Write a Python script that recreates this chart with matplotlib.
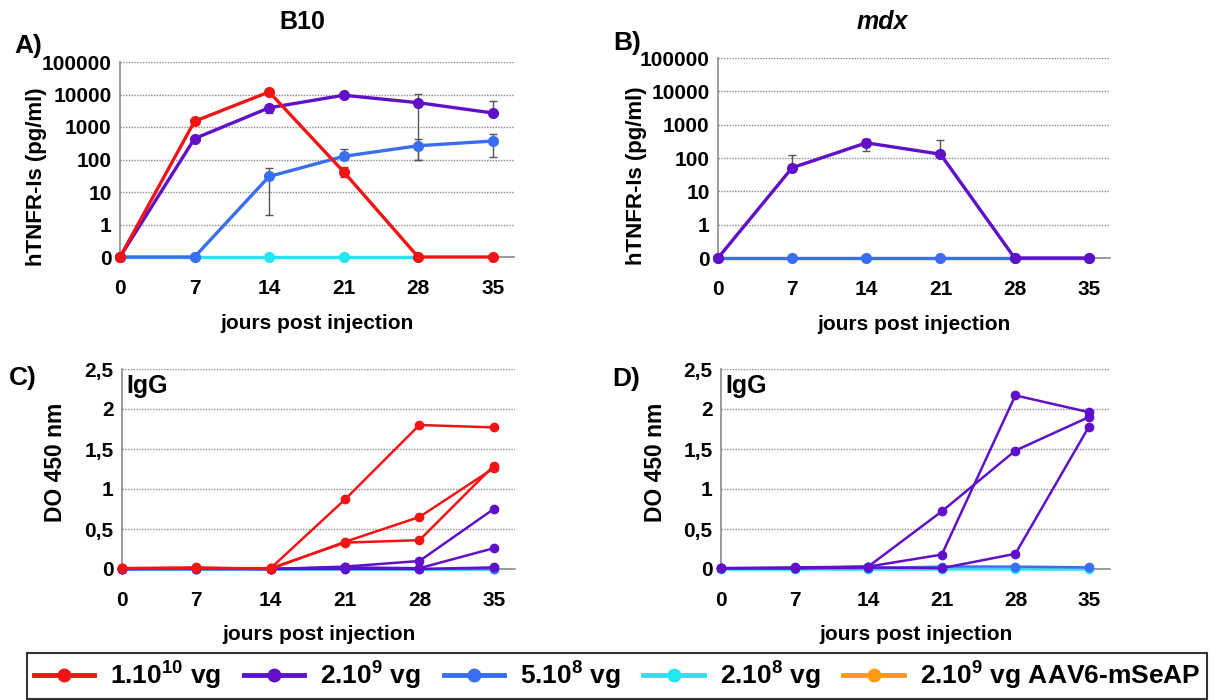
import numpy as np
import matplotlib
matplotlib.use("Agg")
import matplotlib.pyplot as plt
from matplotlib.lines import Line2D

plt.rcParams['font.family'] = ['Liberation Sans', 'DejaVu Sans']
plt.rcParams['font.weight'] = 'bold'
plt.rcParams['mathtext.fontset'] = 'custom'
plt.rcParams['mathtext.rm'] = 'Liberation Sans:bold'
plt.rcParams['mathtext.bf'] = 'Liberation Sans:bold'
plt.rcParams['mathtext.it'] = 'Liberation Sans:bold:italic'

days = [0, 7, 14, 21, 28, 35]

# A) B10 - hTNFR-Is (pg/ml)
a_red = [0, 1500, 12000, 42, 0, 0]
a_red_lo = [0, 0, 0, 13, 0, 0]
a_red_hi = [0, 0, 0, 15, 0, 0]
a_purple = [0, 440, 3900, 9500, 5600, 2700]
a_purple_lo = [0, 0, 1200, 0, 5500, 0]
a_purple_hi = [0, 0, 0, 0, 4700, 3450]
a_blue = [0, 0, 30, 125, 265, 370]
a_blue_lo = [0, 0, 28, 0, 165, 250]
a_blue_hi = [0, 0, 25, 80, 155, 245]
a_cyan = [0, 0, 0, 0, 0]

# B) mdx - hTNFR-Is (pg/ml)
b_purple = [0, 51, 285, 130, 0, 0]
b_purple_lo = [0, 0, 120, 0, 0, 0]
b_purple_hi = [0, 75, 95, 205, 0, 0]
b_blue = [0, 0, 0, 0, 0, 0]

# C) B10 - IgG DO 450 nm (one line per mouse)
c_red = [[0.01, 0.01, 0.01, 0.87, 1.80, 1.77],
         [0.01, 0.02, 0.00, 0.34, 0.65, 1.26],
         [0.01, 0.01, 0.01, 0.33, 0.36, 1.29]]
c_purple = [[0.00, 0.01, 0.00, 0.03, 0.10, 0.75],
            [0.00, 0.01, 0.00, 0.02, 0.01, 0.26],
            [0.00, 0.00, 0.00, 0.00, 0.00, 0.02]]
c_blue = [0.00, 0.00, 0.00, 0.01, 0.00, 0.00]
c_cyan = [0.00, 0.00, 0.00, 0.00, 0.00, 0.00]

# D) mdx - IgG DO 450 nm
d_purple = [[0.01, 0.01, 0.03, 0.72, 1.48, 1.90],
            [0.01, 0.02, 0.03, 0.18, 2.17, 1.96],
            [0.01, 0.01, 0.02, 0.01, 0.19, 1.78]]
d_blue = [0.01, 0.01, 0.01, 0.03, 0.03, 0.02]
d_cyan = [0.00, 0.00, 0.00, 0.00, 0.00, 0.00]

log_ticks = [0, 1, 10, 100, 1000, 10000, 100000]
log_labels = ['0', '1', '10', '100', '1000', '10000', '100000']
od_ticks = [0, 0.5, 1, 1.5, 2, 2.5]

legend_labels = ['$1.10^{10}$ vg', '$2.10^{9}$ vg', '$5.10^{8}$ vg',
                 '$2.10^{8}$ vg', '$2.10^{9}$ vg AAV6-mSeAP']
colors = ['#f01414', '#6010c8', '#3a6ef0', '#22e6f0', '#ff9a12']
RED, PURPLE, BLUE, CYAN, ORANGE = colors


def fwd(v):
    v = np.asarray(v, dtype=float)
    return np.where(v >= 1, np.log10(np.maximum(v, 1)) + 1, v)


def inv(y):
    y = np.asarray(y, dtype=float)
    return np.where(y >= 1, 10 ** (y - 1), y)


fig = plt.figure(figsize=(12.17, 7), dpi=100)


def axes_px(l, t, r, b):
    return fig.add_axes([l / 1217, 1 - b / 700, (r - l) / 1217, (b - t) / 700])


def style(ax):
    for s in ['top', 'right']:
        ax.spines[s].set_visible(False)
    for s in ['left', 'bottom']:
        ax.spines[s].set_color('#8a8a8a')
        ax.spines[s].set_linewidth(1.2)
    ax.yaxis.grid(True, linestyle=(0, (1, 1)), color='#8a8a8a', lw=1)
    ax.set_axisbelow(True)
    ax.tick_params(axis='y', length=0, pad=6, labelsize=15)
    ax.tick_params(axis='x', length=3, color='#8a8a8a', pad=13, labelsize=15)
    ax.set_xticks(days)
    ax.set_xlim(0, 37)
    ax.set_xlabel('jours post injection', fontsize=15, fontweight='bold', labelpad=11)


def line(ax, x, y, c, lw=2.4, ms=7):
    ax.plot(x, y, '-o', color=c, lw=lw, ms=ms, clip_on=False, zorder=3)


def errs(ax, y, lo, hi):
    ax.errorbar(days, y, yerr=[lo, hi], fmt='none', ecolor='#555555',
                elinewidth=1, capsize=3, capthick=1, zorder=2, clip_on=False)


# A
axA = axes_px(120, 62, 514, 257)
axA.set_yscale('function', functions=(fwd, inv))
errs(axA, a_blue, a_blue_lo, a_blue_hi)
errs(axA, a_purple, a_purple_lo, a_purple_hi)
errs(axA, a_red, a_red_lo, a_red_hi)
line(axA, days[:5], a_cyan, CYAN)
line(axA, days, a_blue, BLUE)
line(axA, days, a_purple, PURPLE)
line(axA, days, a_red, RED)

# B
axB = axes_px(718, 58, 1110, 258)
axB.set_yscale('function', functions=(fwd, inv))
errs(axB, b_purple, b_purple_lo, b_purple_hi)
line(axB, days, b_blue, BLUE)
line(axB, days, b_purple, PURPLE)

for ax in (axA, axB):
    ax.set_ylim(0, 100000)
    ax.set_yticks(log_ticks)
    ax.set_yticklabels(log_labels)
    style(ax)
    ax.set_ylabel('hTNFR-Is (pg/ml)', fontsize=16, fontweight='bold')
axA.yaxis.set_label_coords(-0.185, 0.41)
axB.yaxis.set_label_coords(-0.18, 0.41)

# C
axC = axes_px(122, 369, 515, 569)
line(axC, days, c_cyan, CYAN, lw=1.8, ms=6)
line(axC, days, c_blue, BLUE, lw=1.8, ms=6)
for s in c_purple:
    line(axC, days, s, PURPLE, lw=1.8, ms=6)
for s in c_red:
    line(axC, days, s, RED, lw=1.8, ms=6)

# D
axD = axes_px(721, 369, 1110, 569)
line(axD, days, d_cyan, CYAN, lw=1.8, ms=6)
line(axD, days, d_blue, BLUE, lw=1.8, ms=6)
for s in d_purple:
    line(axD, days, s, PURPLE, lw=1.8, ms=6)

for ax in (axC, axD):
    ax.set_ylim(0, 2.5)
    ax.set_yticks(od_ticks)
    ax.set_yticklabels([('%g' % t).replace('.', ',') for t in od_ticks])
    style(ax)
    ax.set_ylabel('DO 450 nm', fontsize=16.5, fontweight='bold')
    ax.text(0.012, 0.975, 'IgG', transform=ax.transAxes, fontsize=18,
            fontweight='bold', va='top', ha='left')
axC.yaxis.set_label_coords(-0.14, 0.535)
axD.yaxis.set_label_coords(-0.139, 0.535)

# titles and panel letters
fig.text(302 / 1217, 1 - 22 / 700, 'B10', fontsize=18, fontweight='bold',
         ha='center', va='center')
fig.text(882 / 1217, 1 - 22 / 700, 'mdx', fontsize=18, fontweight='bold',
         style='italic', ha='center', va='center')
for lab, x, y in [('A)', 28, 46), ('B)', 627, 43), ('C)', 23, 378), ('D)', 626, 379)]:
    fig.text(x / 1217, 1 - y / 700, lab, fontsize=19, fontweight='bold',
             ha='center', va='center')

# legend
handles = [Line2D([], [], color=c, lw=3.5, marker='o', ms=9) for c in colors]
leg = fig.legend(handles, legend_labels, loc='center', ncol=5,
                 bbox_to_anchor=(617 / 1217, 1 - 676 / 700),
                 fontsize=19, frameon=True, fancybox=False, edgecolor='black',
                 handlelength=2.3, handletextpad=0.6, columnspacing=0.85,
                 borderpad=0.25)
leg.get_frame().set_linewidth(1.5)

fig.savefig('out.png', dpi=100)
